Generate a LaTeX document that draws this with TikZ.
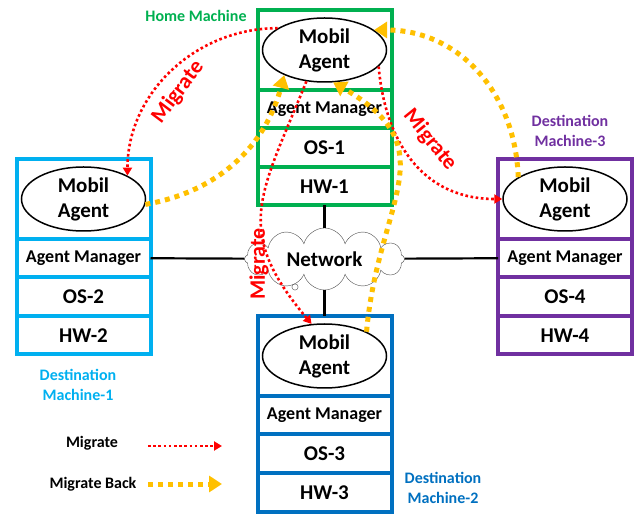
\documentclass[tikz,border=0pt]{standalone}
\usepackage{fontspec}
\setmainfont{Carlito}
\usetikzlibrary{positioning, shapes, arrows.meta}

\definecolor{homegreen}{RGB}{0,176,80}
\definecolor{dmcyan}{RGB}{0,176,240}
\definecolor{dmblue}{RGB}{0,112,192}
\definecolor{dmpurple}{RGB}{112,48,160}
\definecolor{backyellow}{RGB}{255,192,0}

\tikzset{topcell/.style={
        draw,
        rectangle,
        line width=4pt,
        outer sep=0pt,
        minimum width=134pt,
        minimum height=80pt
}}
\tikzset{layer/.style={
        draw,
        rectangle,
        line width=4pt,
        outer sep=0pt,
        inner sep=0pt,
        minimum width=134pt,
        minimum height=38.5pt,
        font=\fontsize{21}{23}\selectfont\bfseries
}}
\tikzset{manager/.style={layer, font=\fontsize{18}{20}\selectfont\bfseries}}
\tikzset{agent/.style={
        draw,
        ellipse,
        line width=1.5pt,
        inner sep=0pt,
        minimum width=124pt,
        minimum height=64pt,
        align=center,
        font=\fontsize{21}{25}\selectfont\bfseries
}}
\tikzset{caption/.style={align=center, font=\fontsize{16}{20}\selectfont\bfseries}}
\tikzset{tag/.style={text=red, font=\fontsize{22}{24}\selectfont\bfseries}}
\tikzset{link/.style={draw, line width=2.2pt}}
\tikzset{migrate/.style={draw=red, line width=2.6pt, dash pattern=on 2.6pt off 2.6pt,
        -{Triangle[length=8pt, width=9pt]}}}
\tikzset{migrateback/.style={draw=backyellow, line width=5pt, dash pattern=on 5pt off 5pt,
        -{Triangle[length=13pt, width=16pt]}}}

\begin{document}
\begin{tikzpicture}[x=1pt, y=1pt]
\useasboundingbox (0,0) rectangle (637,514);

% home machine
\node[topcell, draw=homegreen] (home) at (324.5,464) {};
\node[manager, draw=homegreen, below=0pt of home] (home-am) {Agent Manager};
\node[layer, draw=homegreen, below=0pt of home-am] (home-os) {OS-1};
\node[layer, draw=homegreen, below=0pt of home-os] (home-hw) {HW-1};
\node[agent] (home-agent) at (home) {Mobil\\Agent};
\node[caption, text=homegreen] (home-name) at (196,498) {Home Machine};

% destination machine 1
\node[topcell, draw=dmcyan] (dm1) at (83.5,315) {};
\node[manager, draw=dmcyan, below=0pt of dm1] (dm1-am) {Agent Manager};
\node[layer, draw=dmcyan, below=0pt of dm1-am] (dm1-os) {OS-2};
\node[layer, draw=dmcyan, below=0pt of dm1-os] (dm1-hw) {HW-2};
\node[agent] (dm1-agent) at (dm1) {Mobil\\Agent};
\node[caption, text=dmcyan] (dm1-name) at (78,129) {Destination\\Machine-1};

% destination machine 2
\node[topcell, draw=dmblue] (dm2) at (324.5,158) {};
\node[manager, draw=dmblue, below=0pt of dm2] (dm2-am) {Agent Manager};
\node[layer, draw=dmblue, below=0pt of dm2-am] (dm2-os) {OS-3};
\node[layer, draw=dmblue, below=0pt of dm2-os] (dm2-hw) {HW-3};
\node[agent] (dm2-agent) at (dm2) {Mobil\\Agent};
\node[caption, text=dmblue] (dm2-name) at (443,26) {Destination\\Machine-2};

% destination machine 3
\node[topcell, draw=dmpurple] (dm3) at (565,315) {};
\node[manager, draw=dmpurple, below=0pt of dm3] (dm3-am) {Agent Manager};
\node[layer, draw=dmpurple, below=0pt of dm3-am] (dm3-os) {OS-4};
\node[layer, draw=dmpurple, below=0pt of dm3-os] (dm3-hw) {HW-4};
\node[agent] (dm3-agent) at (dm3) {Mobil\\Agent};
\node[caption, text=dmpurple] (dm3-name) at (570,383) {Destination\\Machine-3};

% network
\node[cloud, cloud puffs=12, cloud ignores aspect, draw=black!70, thin, fill=white,
      minimum width=160pt, minimum height=62pt, inner sep=0pt,
      font=\fontsize{21}{23}\selectfont\bfseries] (net) at (324.5,255) {Network};
\node[circle, draw=black!70, thin, inner sep=2.2pt] (bubble) at (295,227) {};

\draw[link] (home-hw) -- (net);
\draw[link] (net) -- (dm2);
\draw[link] (dm1-am.east) -- (net);
\draw[link] (net) -- (dm3-am.west);

% migrate
\draw[migrate] (home-agent.155) to[out=180, in=90] (dm1-agent.28);
\draw[migrate] (home-agent.-17) to[out=-85, in=180, looseness=1.1] (dm3-agent.west);
\draw[migrate] (home-agent.240) to[out=-112, in=130, looseness=1.3] (dm2-agent.112);
\node[tag, rotate=53] (tag1) at (178,422) {Migrate};
\node[tag, rotate=-51] (tag2) at (430,374) {Migrate};
\node[tag, rotate=90] (tag3) at (259,250) {Migrate};

% migrate back
\draw[migrateback] (dm1-agent.-5) to[out=10, in=-105] (home-agent.212);
\draw[migrateback] (dm2-agent.30) to[out=85, in=-30, looseness=1.35] (home-agent.285);
\draw[migrateback] (dm3-agent.155) to[out=92, in=0, looseness=1.05] (home-agent.22);

% legend
\node[caption] (key1) at (92,71) {Migrate};
\node[caption] (key2) at (93,30) {Migrate Back};
\coordinate (key1-from) at (148,68);
\coordinate (key1-to) at (222,68);
\coordinate (key2-from) at (148,30);
\coordinate (key2-to) at (222,30);
\draw[migrate] (key1-from) -- (key1-to);
\draw[migrateback] (key2-from) -- (key2-to);
\end{tikzpicture}
\end{document}
